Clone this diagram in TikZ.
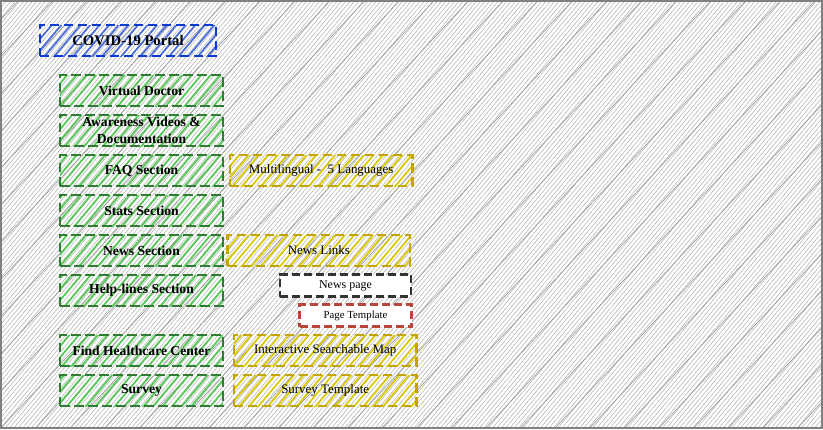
\documentclass[tikz,border=0pt]{standalone}
\usepackage{fontspec}
\setmainfont{Liberation Serif}
\usetikzlibrary{positioning,patterns.meta}

\definecolor{portalblue}{HTML}{0B3BD0}
\definecolor{secgreen}{HTML}{2F7D32}
\definecolor{featgold}{HTML}{C4A500}
\definecolor{tplred}{HTML}{B8473B}
\definecolor{pagegray}{HTML}{333333}

\begin{document}
\begin{tikzpicture}[
  x=0.75pt, y=-0.75pt,
  node distance=6.75pt,
  box/.style={
    rectangle,
    draw,
    line width=1.7pt,
    dash pattern=on 7pt off 3.5pt,
    outer sep=0pt,
    inner sep=0pt,
    minimum height=23.25pt,
    text centered,
    align=center,
    font=\bfseries\fontsize{10.2}{12}\selectfont
  },
  hatch/.style={
    pattern={Lines[angle=50,distance=5.5pt,line width=1.3pt]},
    pattern color=#1
  },
  portal/.style={box, draw=portalblue, hatch=portalblue!75,
    minimum width=132pt, font=\bfseries\fontsize{11}{13}\selectfont},
  section/.style={box, draw=secgreen, hatch=secgreen!55!green!75,
    minimum width=122pt},
  feature/.style={box, draw=featgold, hatch=featgold!60!yellow,
    minimum width=137pt, font=\fontsize{9.7}{12}\selectfont},
  page/.style={box, fill=white, line width=1.7pt,
    dash pattern=on 6pt off 3pt, minimum height=16.5pt}
]

% --- SFONDO --------------------------------------------------------
\useasboundingbox (0,0) rectangle (823,429);
\fill[white] (0,0) rectangle (823,429);
\fill[pattern={Lines[angle=50,distance=2.5pt,line width=0.4pt]},
  pattern color=gray!60] (1,1) rectangle (822,428);
\fill[pattern={Lines[angle=47,distance=19pt,line width=0.5pt]},
  pattern color=gray!80] (1,1) rectangle (822,428);
\draw[gray, line width=1pt] (1,1) rectangle (822,428);

% --- PORTALE -------------------------------------------------------
\node[portal] (portal) at (128,40.5) {COVID-19 Portal};

% --- SEZIONI -------------------------------------------------------
\node[section] (doctor) at (141.5,90.5) {Virtual Doctor};
\node[section, below=of doctor, font=\bfseries\fontsize{10.2}{12.5}\selectfont] (videos)
  {Awareness Videos \&\\Documentation};
\node[section, below=of videos] (faq) {FAQ Section};
\node[section, below=of faq] (stats) {Stats Section};
\node[section, below=of stats] (news) {News Section};
\node[section, below=of news] (helplines) {Help-lines Section};
\node[section, below=21.75pt of helplines] (healthcare) {Find Healthcare Center};
\node[section, below=of healthcare] (survey) {Survey};

% --- FUNZIONALITA --------------------------------------------------
\node[feature, right=5.25pt of faq] (multilingual) {Multilingual -~ 5 Languages};
\node[feature, right=3.5pt of news] (newslinks) {News Links};
\node[feature, right=8.25pt of healthcare] (map) {Interactive Searchable Map};
\node[feature, right=8.25pt of survey] (surveytpl) {Survey Template};

% --- PAGINE --------------------------------------------------------
\node[page, draw=pagegray, minimum width=98pt,
  font=\fontsize{9}{11}\selectfont] (newspage) at (345.5,285.5) {News page};
\node[page, draw=tplred, minimum width=84pt,
  font=\fontsize{8.1}{10}\selectfont] (pagetpl) at (355.5,315.5) {Page Template};

\end{tikzpicture}
\end{document}
